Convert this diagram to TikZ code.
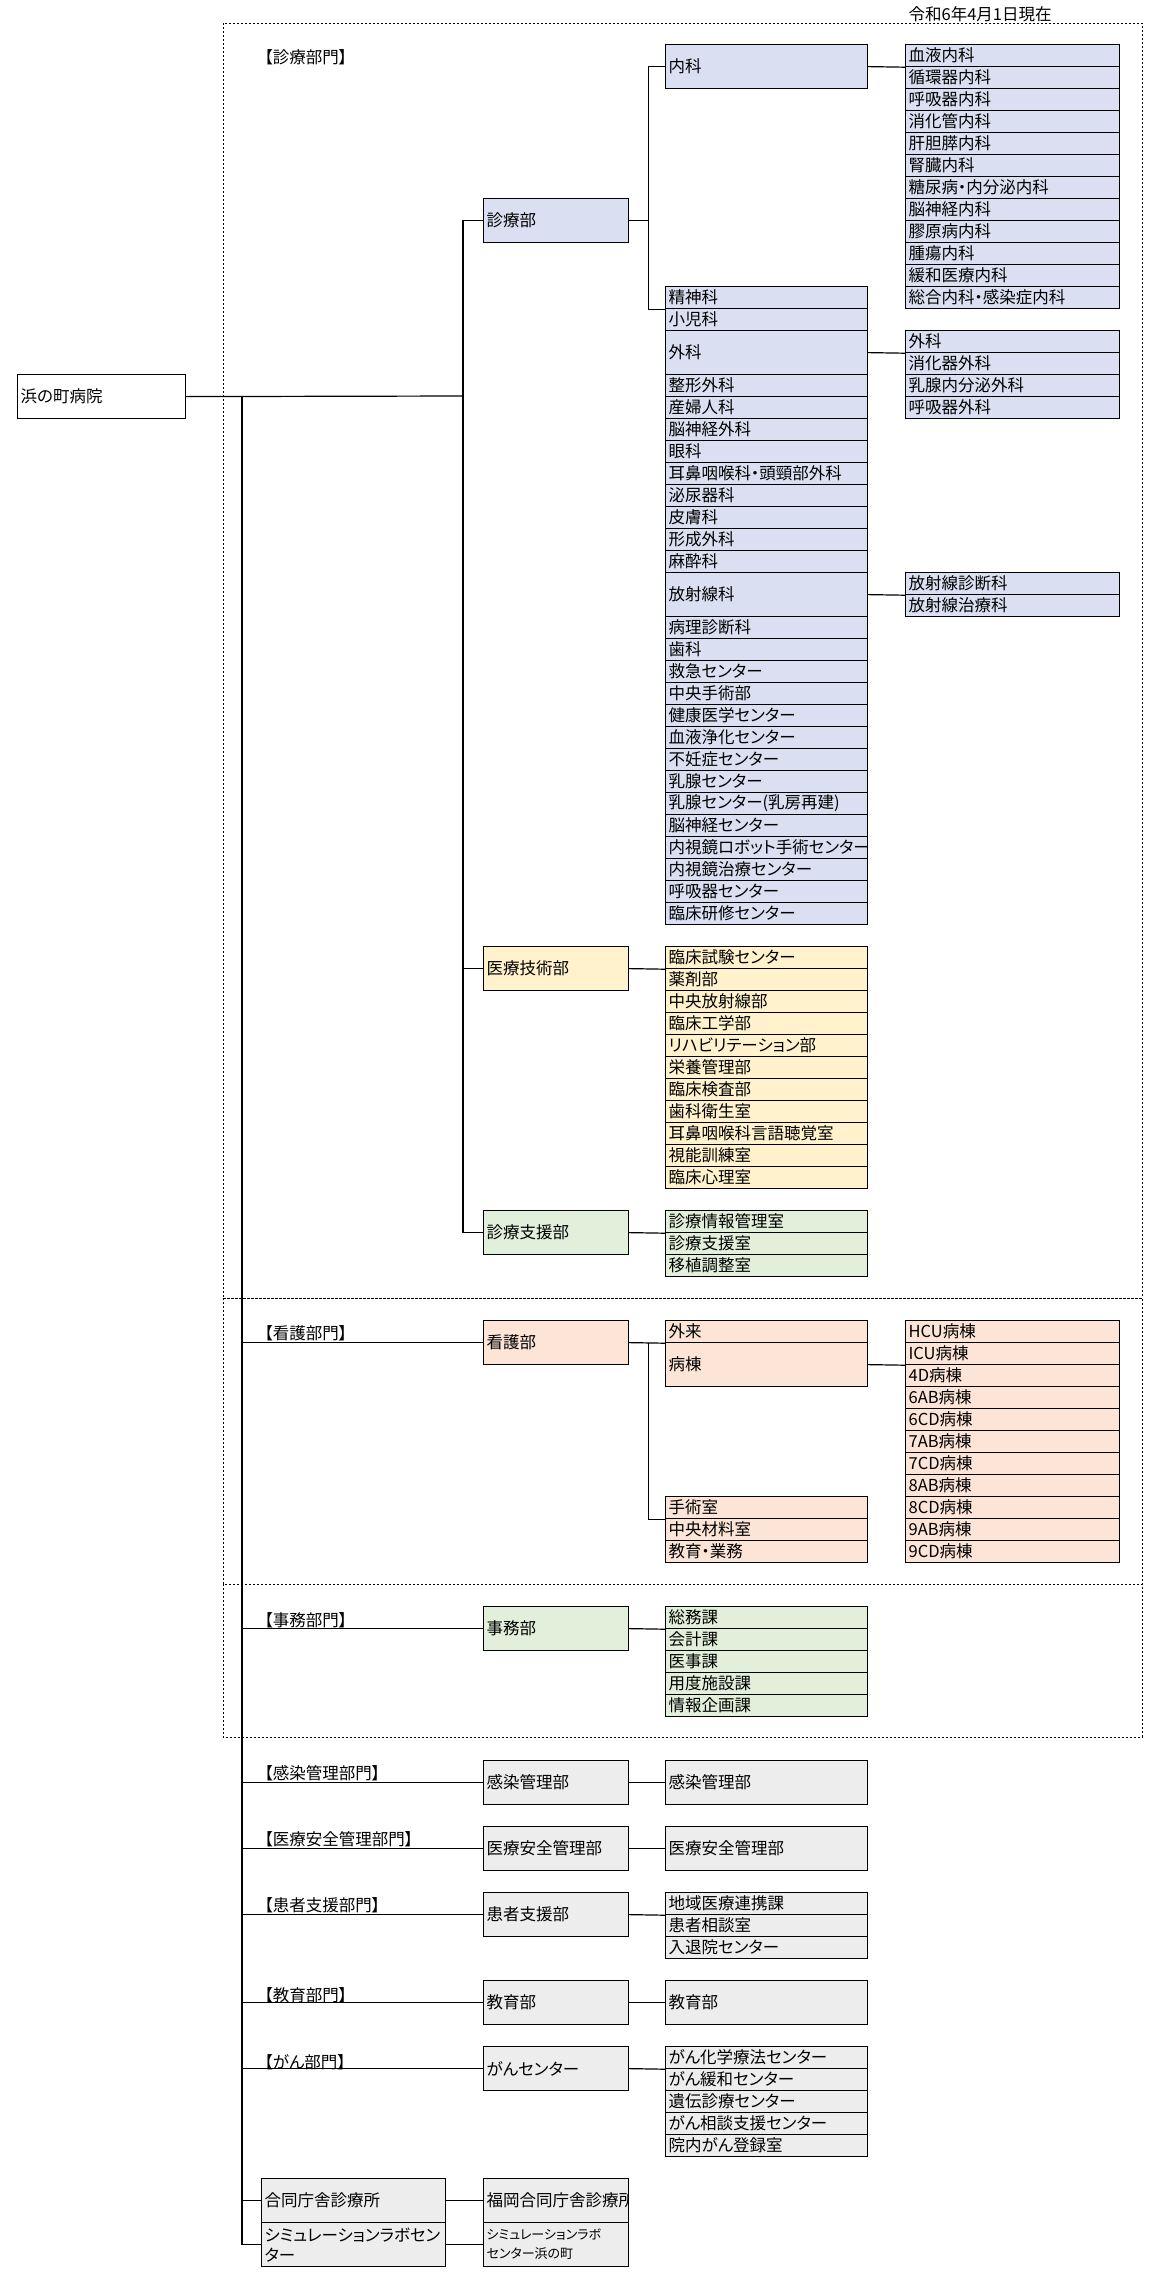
\documentclass[tikz,border=0pt]{standalone}
\usepackage{fontspec}
\setmainfont[RawFeature=+palt]{Noto Sans CJK JP}

\definecolor{cblue}{RGB}{218,224,242}
\definecolor{cyel}{RGB}{255,242,204}
\definecolor{cgrn}{RGB}{226,239,218}
\definecolor{cpch}{RGB}{252,228,214}
\definecolor{cgray}{RGB}{237,237,237}

\tikzset{
  every node/.style={font=\fontsize{16.5}{20}\selectfont},
  cellbox/.style={draw, line width=1.2pt, anchor=north west, inner xsep=3pt, inner ysep=0pt,
    text width=#1, minimum height=22pt, align=left},
  cellbox/.default=196pt,
  tall/.style={minimum height=44pt},
  fblue/.style={fill=cblue}, fyel/.style={fill=cyel}, fgrn/.style={fill=cgrn},
  fpch/.style={fill=cpch}, fgray/.style={fill=cgray},
  seclabel/.style={anchor=west, inner sep=0pt},
  frame/.style={line width=1pt, dash pattern=on 2pt off 2pt},
}

% a run of 22pt rows
\newcommand{\cellrun}[6]{%
  \foreach \txt [count=\idx] in {#6}
    \node[cellbox=#4, #5] (#1-\idx) at (#2,{#3+22*(\idx-1)}) {\txt};
}

\begin{document}
\begin{tikzpicture}[x=1pt, y=-1pt, line width=1.2pt]
  \useasboundingbox (0,0) rectangle (1162,2289);

  \node[seclabel] (date) at (908,14) {令和6年4月1日現在};

  \draw[frame] (223,23) rectangle (1142,1298);
  \draw[frame] (223,1298) rectangle (1142,1584);
  \draw[frame] (223,1584) rectangle (1142,1737);

  \node[cellbox=162pt, fill=white, tall] (hospital) at (17,374) {浜の町病院};
  \coordinate (bus) at (242,396);
  \coordinate (bus2) at (463,396);

  % 診療部門
  \node[seclabel] (lb-shin) at (264,57) {【診療部門】};
  \node[cellbox=139pt, fblue, tall] (shinryo) at (483,198) {診療部};
  \node[cellbox, fblue, tall] (naika) at (665,44) {内科};
  \cellrun{nk}{905}{44}{208pt}{fblue}{血液内科,循環器内科,呼吸器内科,消化管内科,肝胆膵内科,腎臓内科,糖尿病・内分泌内科,脳神経内科,膠原病内科,腫瘍内科,緩和医療内科,総合内科・感染症内科}
  \cellrun{sa}{665}{286}{196pt}{fblue}{精神科,小児科}
  \node[cellbox, fblue, tall] (geka) at (665,330) {外科};
  \cellrun{sb}{665}{374}{196pt}{fblue}{整形外科,産婦人科,脳神経外科,眼科,耳鼻咽喉科・頭頸部外科,泌尿器科,皮膚科,形成外科,麻酔科}
  \node[cellbox, fblue, tall] (hosha) at (665,572) {放射線科};
  \cellrun{sc}{665}{616}{196pt}{fblue}{病理診断科,歯科,救急センター,中央手術部,健康医学センター,血液浄化センター,不妊症センター,乳腺センター,乳腺センター(乳房再建),脳神経センター,内視鏡ロボット手術センター,内視鏡治療センター,呼吸器センター,臨床研修センター}
  \cellrun{gk}{905}{330}{208pt}{fblue}{外科,消化器外科,乳腺内分泌外科,呼吸器外科}
  \cellrun{hs}{905}{572}{208pt}{fblue}{放射線診断科,放射線治療科}

  \draw (shinryo.east) -- ++(19,0) coordinate (j1);
  \draw (naika.west) -| (j1) |- (sa-1.south west);
  \draw (naika.east) -- (nk-1.south west);
  \draw (geka.east) -- (gk-1.south west);
  \draw (hosha.east) -- (hs-1.south west);

  \node[cellbox=139pt, fyel, tall] (gijutsu) at (483,946) {医療技術部};
  \cellrun{gj}{665}{946}{196pt}{fyel}{臨床試験センター,薬剤部,中央放射線部,臨床工学部,リハビリテーション部,栄養管理部,臨床検査部,歯科衛生室,耳鼻咽喉科言語聴覚室,視能訓練室,臨床心理室}
  \draw (gijutsu.east) -- (gj-1.south west);

  \node[cellbox=139pt, fgrn, tall] (shien) at (483,1210) {診療支援部};
  \cellrun{ss}{665}{1210}{196pt}{fgrn}{診療情報管理室,診療支援室,移植調整室}
  \draw (shien.east) -- (ss-1.south west);

  \draw (hospital.east) -- (bus2);
  \draw (shinryo.west) -| (bus2) |- (shien.west);
  \draw (bus2) |- (gijutsu.west);

  % 看護部門
  \node[seclabel] (lb-kango) at (264,1333) {【看護部門】};
  \node[cellbox=139pt, fpch, tall] (kango) at (483,1320) {看護部};
  \node[cellbox, fpch] (gairai) at (665,1320) {外来};
  \node[cellbox, fpch, tall] (byoto) at (665,1342) {病棟};
  \cellrun{ns}{665}{1496}{196pt}{fpch}{手術室,中央材料室,教育・業務}
  \cellrun{wd}{905}{1320}{208pt}{fpch}{HCU病棟,ICU病棟,4D病棟,6AB病棟,6CD病棟,7AB病棟,7CD病棟,8AB病棟,8CD病棟,9AB病棟,9CD病棟}
  \draw (kango.east) -- (gairai.south west);
  \draw (kango.east) ++(19,0) coordinate (j2) |- (ns-1.south west);
  \draw (byoto.east) -- (wd-2.south west);

  % 事務部門
  \node[seclabel] (lb-jimu) at (264,1620) {【事務部門】};
  \node[cellbox=139pt, fgrn, tall] (jimu) at (483,1606) {事務部};
  \cellrun{jm}{665}{1606}{196pt}{fgrn}{総務課,会計課,医事課,用度施設課,情報企画課}
  \draw (jimu.east) -- (jm-1.south west);

  % その他の部門
  \node[seclabel] (lb-kansen) at (264,1773) {【感染管理部門】};
  \node[cellbox=139pt, fgray, tall] (kansen) at (483,1760) {感染管理部};
  \node[cellbox, fgray, tall] (kansen2) at (665,1760) {感染管理部};
  \draw (kansen.east) -- (kansen2.west);

  \node[seclabel] (lb-anzen) at (264,1839) {【医療安全管理部門】};
  \node[cellbox=139pt, fgray, tall] (anzen) at (483,1826) {医療安全管理部};
  \node[cellbox, fgray, tall] (anzen2) at (665,1826) {医療安全管理部};
  \draw (anzen.east) -- (anzen2.west);

  \node[seclabel] (lb-kanja) at (264,1905) {【患者支援部門】};
  \node[cellbox=139pt, fgray, tall] (kanja) at (483,1892) {患者支援部};
  \cellrun{kj}{665}{1892}{196pt}{fgray}{地域医療連携課,患者相談室,入退院センター}
  \draw (kanja.east) -- (kj-1.south west);

  \node[seclabel] (lb-kyoiku) at (264,1995) {【教育部門】};
  \node[cellbox=139pt, fgray, tall] (kyoiku) at (483,1980) {教育部};
  \node[cellbox, fgray, tall] (kyoiku2) at (665,1980) {教育部};
  \draw (kyoiku.east) -- (kyoiku2.west);

  \node[seclabel] (lb-gan) at (264,2062) {【がん部門】};
  \node[cellbox=139pt, fgray, tall] (gan) at (483,2046) {がんセンター};
  \cellrun{gn}{665}{2046}{196pt}{fgray}{がん化学療法センター,がん緩和センター,遺伝診療センター,がん相談支援センター,院内がん登録室}
  \draw (gan.east) -- (gn-1.south west);

  \node[cellbox=178pt, fgray, tall] (gasshu) at (261,2178) {合同庁舎診療所};
  \node[cellbox=178pt, fgray, tall] (sim) at (261,2222) {シミュレーションラボセン\\ター};
  \node[cellbox=139pt, fgray, tall] (fukuoka) at (483,2178) {};
  \begin{scope}
    \clip ([xshift=0.6pt]fukuoka.south west) rectangle ([xshift=-0.6pt]fukuoka.north east);
    \node[anchor=west, inner xsep=3pt] (fukuoka-t) at (fukuoka.west) {福岡合同庁舎診療所};
  \end{scope}
  \node[cellbox=139pt, fgray, tall, font=\fontsize{13}{19}\selectfont] (simhama) at (483,2222) {シミュレーションラボ\\センター浜の町};
  \draw (gasshu.east) -- (fukuoka.west);
  \draw (sim.east) -- (simhama.west);

  % 幹線
  \draw (bus) |- (sim.west);
  \foreach \nd in {kango,jimu,kansen,anzen,kanja,kyoiku,gan,gasshu}
    \draw (bus |- \nd.west) -- (\nd.west);
\end{tikzpicture}
\end{document}
